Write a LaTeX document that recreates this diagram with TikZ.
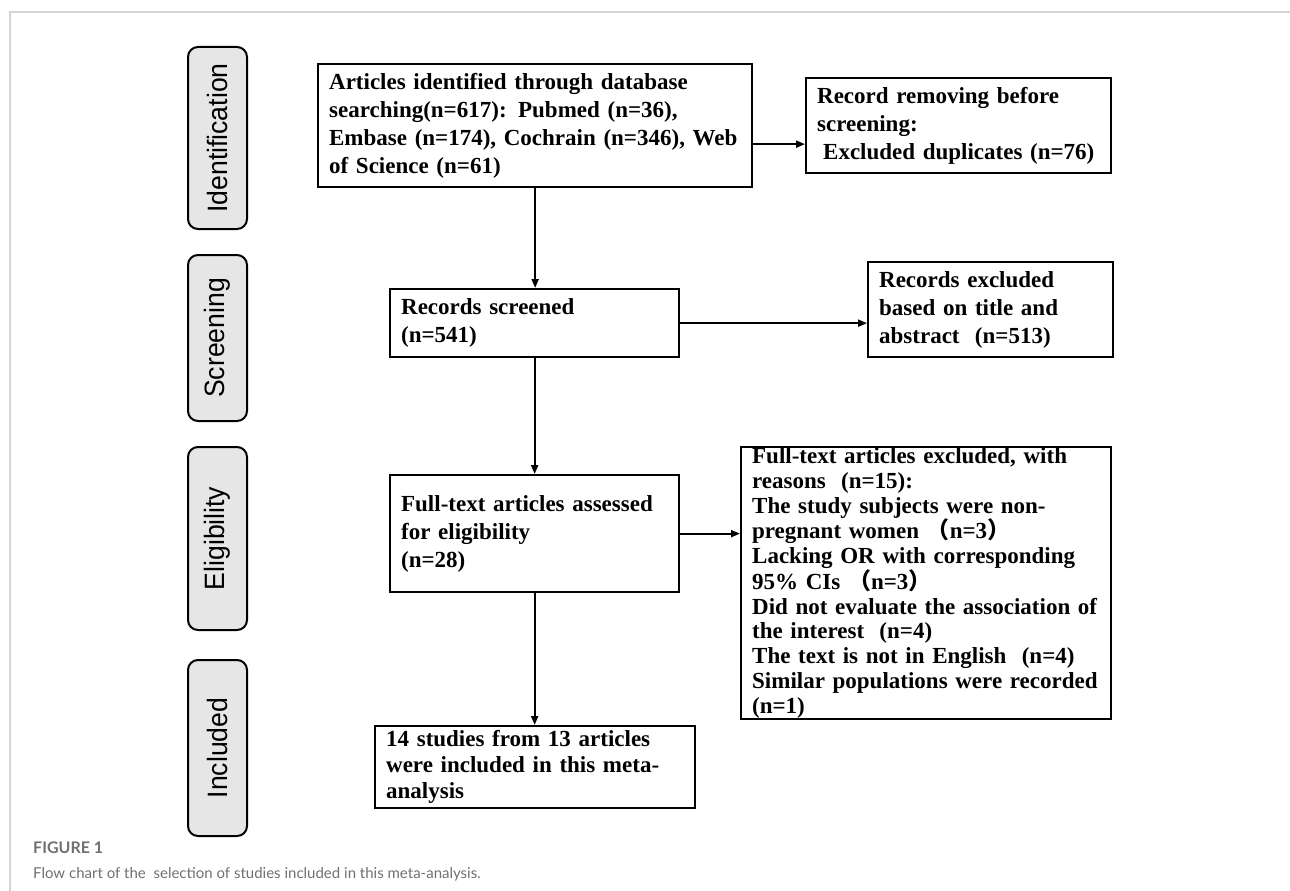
\documentclass[tikz,border=0pt]{standalone}
\usepackage{fontspec}
\setmainfont{Liberation Serif}
\newfontfamily\stagefont{Liberation Sans}
\newfontfamily\capfont{Lato}
\newfontfamily\cjk{Noto Sans CJK SC}
\usetikzlibrary{arrows.meta}
\definecolor{framegray}{HTML}{D4D4D4}
\definecolor{stagefill}{HTML}{E6E6E6}
\definecolor{capgray}{HTML}{707070}
\newcommand{\fwl}{{\cjk （}}
\newcommand{\fwr}{{\cjk ）}}
\tikzset{
  box/.style={draw=black, line width=2.3pt, anchor=north west, inner xsep=11pt, inner ysep=0pt,
    align=left, font=\bfseries\fontsize{23}{28}\selectfont},
  stage/.style={draw=black, fill=stagefill, line width=2pt, rounded corners=10pt, rotate=90,
    minimum height=59pt, inner sep=0pt, font=\stagefont\fontsize{28}{30}\selectfont},
  arr/.style={line width=2pt, -{Triangle[length=9pt,width=7pt]}},
}
\begin{document}
\begin{tikzpicture}[x=1pt,y=-1pt]
\useasboundingbox (0,0) rectangle (1290,891);
% outer frame
\draw[framegray, line width=1.6pt] (1290,12) -- (10,12) -- (10,891);

% stage labels
\node[stage, minimum width=182pt] (s1) at (217.5,138) {\scalebox{0.95}[1]{Identification}};
\node[stage, minimum width=166pt] (s2) at (217.5,338) {\scalebox{0.95}[1]{Screening}};
\node[stage, minimum width=183pt] (s3) at (217.5,538.5) {\scalebox{0.95}[1]{Eligibility}};
\node[stage, minimum width=176pt] (s4) at (217.5,748) {\scalebox{0.95}[1]{Included}};

% boxes
\node[box, minimum width=434pt, minimum height=123pt, text width=412pt] (b1) at (317,63)
  {Articles identified through database\\searching(n=617): Pubmed (n=36),\\Embase (n=174), Cochrain (n=346), Web\\of Science (n=61)};
\node[box, minimum width=305pt, minimum height=95pt, text width=283pt] (b2) at (805,77)
  {Record removing before\\screening:\\\hspace*{6pt}Excluded duplicates (n=76)};
\node[box, minimum width=289pt, minimum height=68pt, text width=267pt] (b3) at (389,288)
  {Records screened\\(n=541)};
\node[box, minimum width=245pt, minimum height=95pt, text width=223pt] (b4) at (867,261)
  {Records excluded\\based on title and\\abstract\ \ (n=513)};
\node[box, minimum width=289pt, minimum height=117pt, text width=267pt] (b5) at (389,474)
  {Full-text articles assessed\\for eligibility\\(n=28)};
\node[box, minimum width=370pt, minimum height=272pt, text width=348pt,
      font=\bfseries\fontsize{23}{24.9}\selectfont] (b6) at (740,446)
  {Full-text articles excluded, with\\reasons\ \ (n=15):\\The study subjects were non-\\pregnant women \fwl n=3\fwr\\Lacking OR with corresponding\\95\% CIs \fwl n=3\fwr\\Did not evaluate the association of\\the interest\ \ (n=4)\\The text is not in English\ \ (n=4)\\Similar populations were recorded\\(n=1)};
\node[box, minimum width=320pt, minimum height=82pt, text width=298pt,
      font=\bfseries\fontsize{23}{26}\selectfont] (b7) at (374,725)
  {14 studies from 13 articles\\were included in this meta-\\analysis};

% connectors
\draw[arr] (b1.south) -- (b1.south |- b3.north);
\draw[arr] (b3.south) -- (b3.south |- b5.north);
\draw[arr] (b5.south) -- (b5.south |- b7.north);
\draw[arr] ([yshift=-18.5pt]b1.east) -- ([yshift=-18.5pt]b2.west);
\draw[arr] (b3.east) -- (b3.east -| b4.west);
\draw[arr] (b5.east) -- (b5.east -| b6.west);

% caption
\node[anchor=base west, inner sep=0pt, text=capgray, font=\capfont\bfseries\fontsize{16}{18}\selectfont] (fig) at (33,853) {FIGURE 1};
\node[anchor=base west, inner sep=0pt, text=capgray, font=\capfont\fontsize{15}{18}\selectfont] (cap) at (33,878) {Flow chart of the\ \ selection of studies included in this meta-analysis.};
\end{tikzpicture}
\end{document}
